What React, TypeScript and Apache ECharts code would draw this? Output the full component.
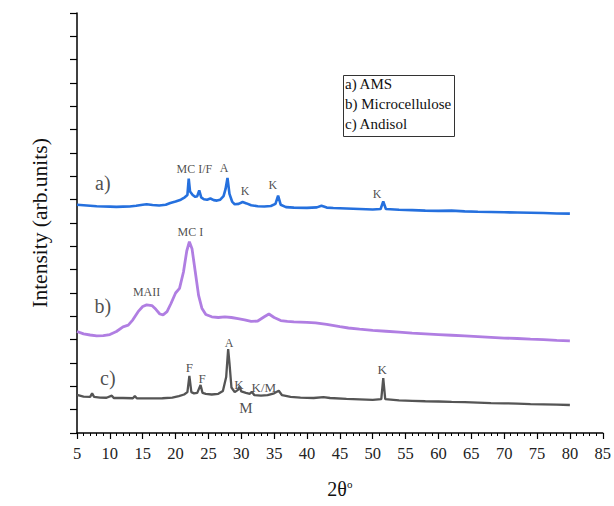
import React, { useEffect, useRef } from "react";
import * as echarts from "echarts";

const amsData: [number, number][] = [
  [5, 9.78], [6, 9.76], [7, 9.74], [8, 9.72], [9, 9.71], [10, 9.7], [11, 9.69], [12, 9.7], [13, 9.71],
  [14, 9.74], [15, 9.78], [15.6, 9.8], [16.5, 9.77], [17.5, 9.75], [18.5, 9.78], [19.2, 9.86], [20, 9.92],
  [20.8, 10.0], [21.4, 10.1], [21.8, 10.2], [22.0, 10.9], [22.2, 10.35], [22.6, 10.2], [23.0, 10.12],
  [23.3, 10.15], [23.6, 10.4], [23.9, 10.1], [24.3, 10.02], [24.8, 10.0], [25.3, 10.05], [25.8, 9.98],
  [26.3, 9.96], [26.8, 10.0], [27.3, 10.15], [27.6, 10.45], [27.9, 10.93], [28.2, 10.25], [28.6, 9.92],
  [29.0, 9.8], [29.6, 9.82], [30.2, 9.9], [30.8, 9.84], [31.5, 9.76], [32.5, 9.72], [33.5, 9.71],
  [34.5, 9.73], [35.2, 9.82], [35.6, 10.17], [36.0, 9.78], [36.8, 9.68], [38, 9.66], [40, 9.65],
  [41.5, 9.67], [42.2, 9.74], [43, 9.66], [44, 9.64], [46, 9.62], [48, 9.6], [50, 9.58], [51.2, 9.6],
  [51.6, 9.93], [52, 9.6], [54, 9.57], [56, 9.55], [58, 9.53], [60, 9.52], [62, 9.53], [64, 9.5],
  [66, 9.48], [68, 9.47], [70, 9.46], [72, 9.45], [74, 9.44], [76, 9.43], [78, 9.41], [80, 9.4],
];

const microData: [number, number][] = [
  [5, 4.35], [6, 4.25], [7, 4.2], [8, 4.16], [9, 4.17], [10, 4.22], [11, 4.35], [12, 4.55], [12.8, 4.62],
  [13.5, 4.85], [14.3, 5.2], [15, 5.42], [15.6, 5.49], [16.4, 5.46], [17, 5.3], [17.6, 5.1], [18.1, 5.06],
  [18.7, 5.2], [19.3, 5.55], [20, 6.0], [20.6, 6.2], [21.2, 6.9], [21.7, 7.8], [22.1, 8.2], [22.5, 7.9],
  [23, 6.9], [23.5, 5.9], [24, 5.35], [24.6, 5.08], [25.5, 4.98], [26.5, 4.95], [27.5, 4.98], [28.5, 4.95],
  [29.5, 4.9], [30.5, 4.85], [31.5, 4.78], [32.5, 4.8], [33.5, 4.98], [34.2, 5.1], [35, 4.95], [36, 4.82],
  [37, 4.78], [38, 4.76], [39, 4.75], [40, 4.74], [41.3, 4.72], [43, 4.66], [45, 4.56], [46.3, 4.5],
  [48, 4.45], [50, 4.4], [52, 4.36], [54, 4.32], [56, 4.28], [58, 4.25], [60, 4.22], [62, 4.19],
  [64, 4.16], [66, 4.13], [68, 4.1], [70, 4.07], [72, 4.05], [74, 4.02], [76, 4.0], [78, 3.97], [80, 3.95],
];

const andisolData: [number, number][] = [
  [5, 1.63], [6, 1.56], [7, 1.55], [7.3, 1.7], [7.6, 1.55], [8.5, 1.52], [9.5, 1.51], [10.3, 1.6],
  [10.6, 1.5], [12, 1.5], [13.5, 1.49], [13.8, 1.58], [14.1, 1.49], [16, 1.48], [18, 1.49], [19.5, 1.52],
  [20.5, 1.58], [21.3, 1.65], [21.8, 1.75], [22.1, 2.45], [22.4, 1.75], [22.8, 1.7], [23.3, 1.72],
  [23.8, 2.06], [24.1, 1.72], [24.6, 1.68], [25.5, 1.65], [26.5, 1.68], [27.2, 1.8], [27.7, 2.4],
  [28.0, 3.6], [28.2, 3.0], [28.5, 1.95], [29, 1.75], [29.5, 1.85], [29.7, 1.99], [30, 1.78], [30.7, 1.72],
  [31.3, 1.68], [31.6, 1.77], [32, 1.62], [33, 1.6], [34, 1.62], [35, 1.7], [35.7, 1.81], [36.2, 1.62],
  [37.5, 1.55], [39, 1.52], [41, 1.5], [42.5, 1.54], [43.5, 1.5], [46, 1.46], [48, 1.44], [50, 1.42],
  [51.3, 1.45], [51.6, 2.35], [51.9, 1.45], [54, 1.4], [56, 1.38], [58, 1.36], [60, 1.35], [62, 1.33],
  [64, 1.32], [66, 1.3], [68, 1.28], [70, 1.27], [72, 1.26], [74, 1.24], [76, 1.23], [78, 1.22], [80, 1.2],
];

// annotation labels: [2θ, y, text, fontSize]
const annotations: [number, number, string, number][] = [
  [8.93, 10.72, "a)", 20],
  [8.93, 5.45, "b)", 20],
  [9.69, 2.36, "c)", 20],
  [22.85, 11.32, "MC I/F", 12],
  [27.38, 11.36, "A", 12],
  [30.56, 10.38, "K", 12],
  [34.79, 10.63, "K", 12],
  [50.67, 10.25, "K", 12],
  [22.24, 8.62, "MC I", 12],
  [15.59, 6.05, "MAII", 12],
  [28.14, 3.86, "A", 12],
  [22.09, 2.79, "F", 13],
  [24.05, 2.32, "F", 13],
  [29.65, 2.06, "K", 13],
  [33.43, 1.97, "K/M", 13],
  [30.7, 1.07, "M", 15],
  [51.43, 2.74, "K", 13],
];

const legendLines = ["a) AMS", "b) Microcellulose", "c) Andisol"];

const FONT = "Liberation Serif";

export default function App() {
  const ref = useRef<HTMLDivElement>(null);
  useEffect(() => {
    if (!ref.current) return;
    const chart = echarts.init(ref.current, undefined, { renderer: "svg" });
    const axisCol = "#000";
    chart.setOption({
      animation: false,
      backgroundColor: "#fff",
      textStyle: { fontFamily: FONT },
      grid: { left: 77, top: 13, right: 8, bottom: 73, containLabel: false },
      xAxis: {
        type: "value",
        min: 5,
        max: 85,
        interval: 5,
        name: "{a|2θ}{b|o}",
        nameLocation: "middle",
        nameGap: 45,
        nameTextStyle: {
          fontFamily: FONT,
          rich: {
            a: { fontFamily: FONT, fontSize: 20, color: "#111" },
            b: { fontFamily: FONT, fontSize: 11, color: "#111", verticalAlign: "top", padding: [0, 0, 10, 0] },
          },
        },
        axisLine: { show: true, lineStyle: { color: axisCol, width: 1.5 } },
        axisTick: { show: true, inside: false, length: 6, lineStyle: { color: axisCol, width: 1.2 } },
        minorTick: { show: true, splitNumber: 5, length: 3, lineStyle: { color: axisCol, width: 1 } },
        axisLabel: { fontFamily: FONT, fontSize: 16.5, color: "#222", margin: 12 },
        splitLine: { show: false },
      },
      yAxis: {
        type: "value",
        min: 0,
        max: 18,
        interval: 1,
        name: "Intensity (arb.units)",
        nameLocation: "middle",
        nameGap: 26,
        nameTextStyle: { fontFamily: FONT, fontSize: 21.5, color: "#111" },
        axisLine: { show: true, lineStyle: { color: axisCol, width: 1.5 } },
        axisTick: { show: true, inside: false, length: 7, lineStyle: { color: axisCol, width: 1.2 } },
        axisLabel: { show: false },
        splitLine: { show: false },
      },
      series: [
        {
          type: "line",
          name: "AMS",
          data: amsData,
          showSymbol: false,
          lineStyle: { color: "#2570de", width: 2.6 },
        },
        {
          type: "line",
          name: "Microcellulose",
          data: microData,
          showSymbol: false,
          lineStyle: { color: "#b07ee2", width: 2.8 },
        },
        {
          type: "line",
          name: "Andisol",
          data: andisolData,
          showSymbol: false,
          lineStyle: { color: "#555555", width: 2.3 },
        },
        {
          type: "scatter",
          symbolSize: 0,
          silent: true,
          data: annotations.map((a) => ({
            value: [a[0], a[1]],
            label: {
              show: true,
              position: "inside",
              formatter: a[2],
              fontFamily: FONT,
              fontSize: a[3],
              color: "#222",
            },
          })),
        },
      ],
      graphic: [
        {
          type: "rect",
          left: 343,
          top: 75,
          shape: { width: 111, height: 61 },
          style: { fill: "#fff", stroke: "#333", lineWidth: 1 },
        },
        ...legendLines.map((t, i) => ({
          type: "text",
          left: 345,
          top: 76 + i * 20,
          style: { text: t, fontFamily: FONT, fontSize: 15, fill: "#111" },
        })),
      ],
    });
    return () => chart.dispose();
  }, []);
  return <div ref={ref} style={{ position: "fixed", left: 0, top: 0, width: 614, height: 506 }} />;
}
